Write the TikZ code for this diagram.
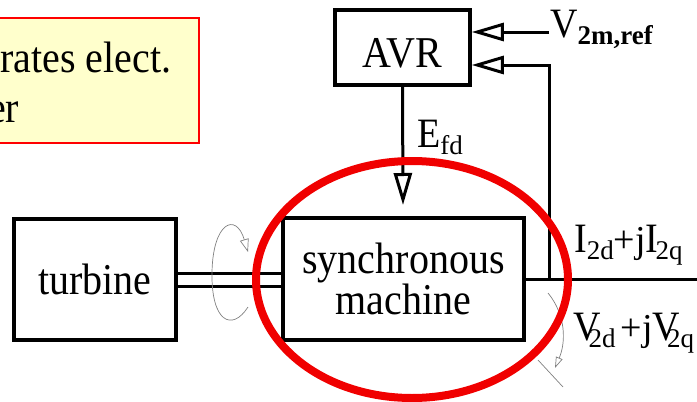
\documentclass[tikz,border=0pt]{standalone}
\usepackage{fontspec}
\setmainfont{Liberation Serif}
\usetikzlibrary{arrows.meta}
\definecolor{noteyellow}{HTML}{FFFFCC}
\definecolor{ringred}{HTML}{F00000}
\newcommand\vs[1]{\scalebox{1}[1.1]{#1}}
\newcommand\lsub[1]{\raisebox{-0.2em}{\fontsize{27}{27}\selectfont #1}}
\begin{document}
\begin{tikzpicture}[x=1pt,y=-1pt,
  blk/.style={draw, line width=3.5pt, inner sep=0pt, font=\fontsize{40}{40}\selectfont, align=center},
  txt/.style={font=\fontsize{40}{40}\selectfont, inner sep=0pt, anchor=base west},
  lab/.style={font=\fontsize{38}{38}\selectfont, inner sep=0pt, anchor=base west},
  conn/.style={line width=3pt},
  arr/.style={conn, -{Triangle[open, length=32pt, width=18pt]}},
  thinarr/.style={gray, line width=0.7pt},
]
\useasboundingbox (0,0) rectangle (697,402);
\clip (0,0) rectangle (697,402);

% note box (cut at the left edge)
\node[draw=red, fill=noteyellow, line width=1.5pt, inner sep=0pt,
      minimum width=229pt, minimum height=125pt] (note) at (84.5,80.5) {};
\node[txt] (l1) at (0,72) {\vs{rates elect.}};
\node[txt] (l2) at (-12,122) {\vs{er}};

% blocks
\node[blk, minimum width=135pt, minimum height=75pt, text height=40pt, text depth=1pt] (avr) at (402.5,47.5) {\vs{AVR}};
\node[blk, minimum width=162pt, minimum height=121pt] (turb) at (95,279.5) {\vs{turbine}};
\node[blk, minimum width=241pt, minimum height=122pt] (mach) at (403.5,279) {\vs{synchronous}\\\vs{machine}};

% shaft
\coordinate (s1) at (176,273);
\coordinate (s2) at (176,286);
\draw[conn] (s1 -| turb.east) -- (s1 -| mach.west);
\draw[conn] (s2 -| turb.east) -- (s2 -| mach.west);

% rotation sign on the shaft
\coordinate (r0) at (248,307);
\coordinate (r1) at (212,272);
\coordinate (r2) at (248,252);
\draw[thinarr, -{Triangle[open, length=13pt, width=9pt]}]
  (r0) .. controls (232,332) and (211,322) .. (r1)
       .. controls (213,222) and (236,212) .. (r2);

% E_fd
\coordinate (efdtip) at (403,205);
\draw[arr] (avr.south) -- (efdtip);
\node[lab] (efd) at (417,147) {\vs{E}\lsub{fd}};

% reference input
\node[lab] (vref) at (550,37) {\vs{V}\lsub{\bfseries 2m,ref}};
\coordinate (vin) at (549,32);
\draw[arr] (vin) -- (vin -| avr.east);

% output line and feedback
\coordinate (outend) at (700,279);
\draw[line width=3pt] (mach.east) -- (outend);
\coordinate (fb) at (549,279);
\coordinate (fbtop) at (549,65);
\draw[arr] (fb) -- (fbtop) -- (fbtop -| avr.east);

\node[lab] (ilab) at (574,252) {\vs{I}\lsub{2d}+j\vs{I}\kern-3pt\lsub{2q}};
\node[lab] (vlab) at (573,340) {\vs{V}\kern-12pt\lsub{2d}\kern5pt+j\vs{V}\kern-13pt\lsub{2q}};

% current direction sign
\coordinate (c0) at (548,293);
\coordinate (c1) at (555,368);
\draw[thinarr, -{Triangle[open, length=11pt, width=7pt]}]
  (c0) .. controls (566,315) and (566,342) .. (c1);
\coordinate (t0) at (538,360);
\coordinate (t1) at (563,387);
\draw[thinarr] (t0) -- (t1);

% red ring
\draw[ringred, line width=8pt] (412,279.5) ellipse [x radius=156pt, y radius=118.5pt];
\end{tikzpicture}
\end{document}
